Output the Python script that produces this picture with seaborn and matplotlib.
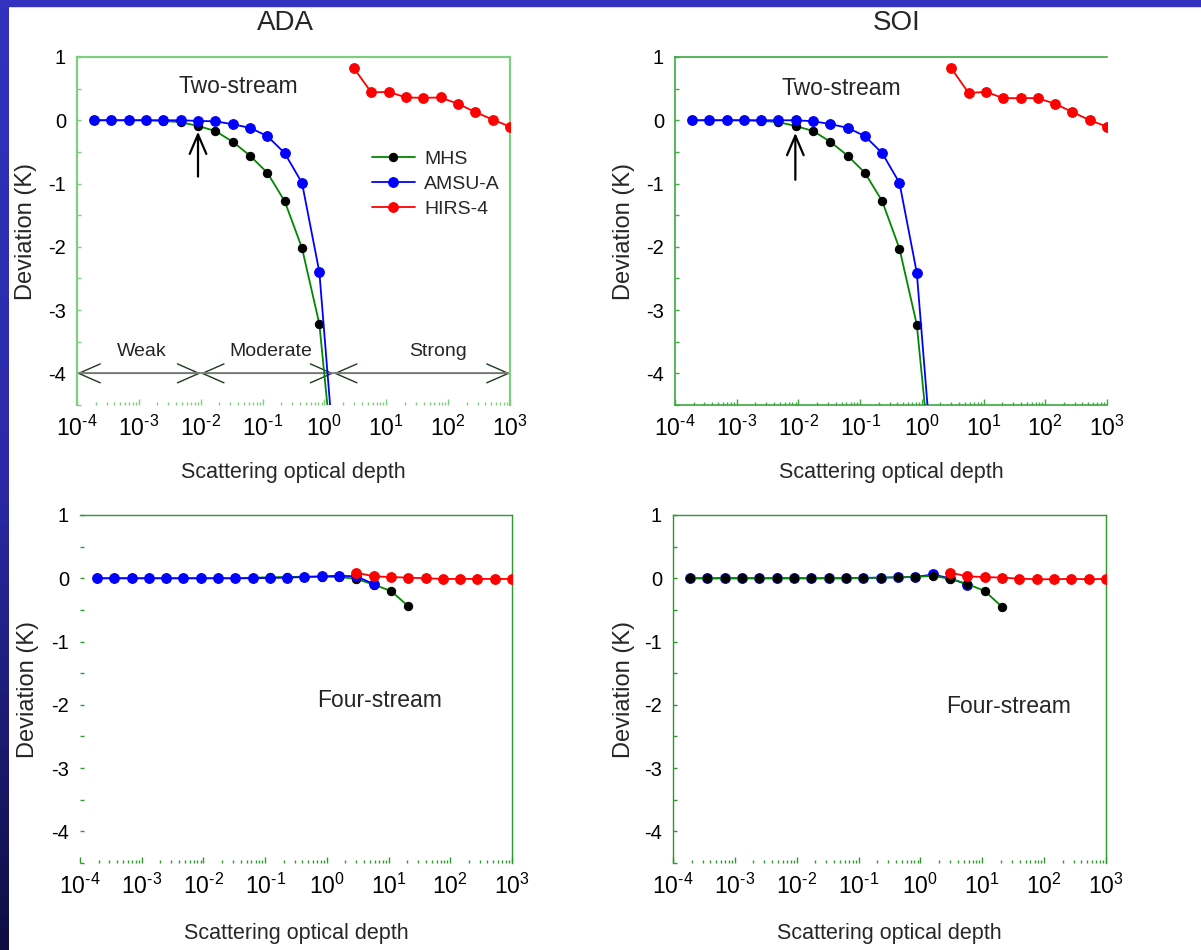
import numpy as np
import matplotlib
matplotlib.use("Agg")
import matplotlib.pyplot as plt
import seaborn as sns
from matplotlib.patches import Rectangle
from matplotlib.colors import LinearSegmentedColormap
from matplotlib.ticker import LogLocator, FixedLocator, MultipleLocator, NullFormatter

# ---------------- data ----------------
tau = [1.88e-4, 3.59e-4, 6.85e-4, 1.31e-3, 2.49e-3, 4.75e-3, 9.04e-3, 1.73e-2,
       3.29e-2, 6.27e-2, 0.1195, 0.228, 0.434, 0.828, 1.58, 3.01, 5.73, 10.9,
       20.8, 39.7, 75.7, 144, 275, 525, 1000]

# ADA, two-stream
ada2_mhs = [0.0, 0.0, 0.0, 0.0, -0.01, -0.03, -0.09, -0.17, -0.34, -0.56, -0.83, -1.28, -2.02, -3.22, -6.0]
ada2_amsu = [0.0, 0.0, 0.0, 0.0, 0.0, 0.0, -0.01, -0.016, -0.063, -0.12, -0.25, -0.52, -0.99, -2.40, -5.8]
ada2_hirs = [0.82, 0.44, 0.45, 0.36, 0.355, 0.36, 0.26, 0.13, 0.01, -0.10]

# SOI, two-stream
soi2_mhs = [0.0, 0.0, 0.0, 0.0, -0.01, -0.03, -0.09, -0.17, -0.34, -0.56, -0.83, -1.28, -2.03, -3.23, -6.0]
soi2_amsu = [0.0, 0.0, 0.0, 0.0, 0.0, 0.0, 0.0, -0.015, -0.06, -0.12, -0.25, -0.52, -0.99, -2.41, -5.8]
soi2_hirs = [0.82, 0.43, 0.45, 0.35, 0.35, 0.35, 0.26, 0.13, 0.0, -0.10]

# ADA, four-stream
ada4_mhs = [0.0, 0.0, 0.0, 0.0, 0.0, 0.0, 0.0, 0.0, 0.0, 0.01, 0.015, 0.02, 0.025, 0.025, 0.02, -0.01, -0.10, -0.20, -0.44]
ada4_amsu = [0.0, 0.0, 0.0, 0.0, 0.0, 0.0, 0.0, 0.0, 0.0, 0.0, 0.005, 0.01, 0.02, 0.03, 0.04, 0.03, -0.09]
ada4_hirs = [0.09, 0.03, 0.02, 0.01, 0.0, -0.01, -0.01, -0.01, -0.01, -0.01]

# SOI, four-stream
soi4_mhs = [0.0, 0.0, 0.0, 0.0, 0.0, 0.0, 0.0, 0.0, 0.0, 0.0, 0.005, 0.01, 0.015, 0.02, 0.04, -0.01, -0.09, -0.20, -0.45]
soi4_amsu = [0.0, 0.0, 0.0, 0.0, 0.0, 0.0, 0.0, 0.0, 0.0, 0.0, 0.005, 0.01, 0.015, 0.02, 0.06, 0.0, -0.10]
soi4_hirs = [0.09, 0.03, 0.02, 0.01, -0.005, -0.015, -0.015, -0.01, -0.015, -0.01]

series_names = ["MHS", "AMSU-A", "HIRS-4"]
xtick_vals = [1e-4, 1e-3, 1e-2, 1e-1, 1e0, 1e1, 1e2, 1e3]
xtick_labels = ["$\\mathregular{10^{\u20104}}$", "$\\mathregular{10^{\u20103}}$",
                "$\\mathregular{10^{\u20102}}$", "$\\mathregular{10^{\u20101}}$",
                "$\\mathregular{10^{0}}$", "$\\mathregular{10^{1}}$",
                "$\\mathregular{10^{2}}$", "$\\mathregular{10^{3}}$"]
ytick_vals = [1, 0, -1, -2, -3, -4]
ytick_labels = ["1", "0", "-1", "-2", "-3", "-4"]
regimes = ["Weak", "Moderate", "Strong"]
regime_bounds = [1e-4, 1e-2, 1.41, 1e3]

# ---------------- style ----------------
sns.set_style("white")
plt.rcParams["font.family"] = ["Liberation Sans", "DejaVu Sans"]
plt.rcParams["mathtext.fontset"] = "custom"
plt.rcParams["mathtext.rm"] = "Liberation Sans"
plt.rcParams["mathtext.it"] = "Liberation Sans:italic"

W, H = 1201, 950
fig = plt.figure(figsize=(W / 100, H / 100), dpi=100)
fig.patch.set_facecolor("white")

# background: blue strips
bg = fig.add_axes([0, 0, 8.5 / W, 1], zorder=-5)
grad = np.linspace(0, 1, 256).reshape(-1, 1)
cm = LinearSegmentedColormap.from_list("bgc", ["#0E0E42", "#2A2AA8", "#3232BE"])
bg.imshow(grad, aspect="auto", cmap=cm, origin="lower", extent=[0, 1, 0, 1])
bg.set_axis_off()
fig.patches.append(Rectangle((0, 1 - 6 / H), 1, 6 / H, transform=fig.transFigure,
                             color="#3232BE", zorder=-4))

GREEN_LINE = "#008800"
BLUE = "#0000FF"
RED = "#FF0000"


def px_axes(x0, x1, ytop, ybot):
    return fig.add_axes([x0 / W, (H - ybot) / H, (x1 - x0) / W, (ybot - ytop) / H])


def draw(ax, mhs, amsu, hirs, mhs_on_top=False):
    def p_mhs(z):
        sns.lineplot(x=tau[:len(mhs)], y=mhs, ax=ax, color=GREEN_LINE, marker="o",
                     markersize=6.0, markerfacecolor="black", markeredgecolor="black",
                     linewidth=1.3, label=series_names[0], zorder=z)

    def p_amsu(z):
        sns.lineplot(x=tau[:len(amsu)], y=amsu, ax=ax, color=BLUE, marker="o",
                     markersize=7.0, markerfacecolor=BLUE, markeredgecolor=BLUE,
                     linewidth=1.3, label=series_names[1], zorder=z)

    if mhs_on_top:
        p_amsu(3)
        p_mhs(4)
    else:
        p_mhs(3)
        p_amsu(4)
    sns.lineplot(x=tau[15:15 + len(hirs)], y=hirs, ax=ax, color=RED, marker="o",
                 markersize=7.0, markerfacecolor=RED, markeredgecolor=RED,
                 linewidth=1.3, label=series_names[2], zorder=5)


def style(ax, spine_color, spines_on, spine_lw):
    ax.set_xscale("log")
    ax.set_xlim(1e-4, 1e3)
    ax.set_ylim(-4.5, 1)
    for side in ["left", "right", "top", "bottom"]:
        ax.spines[side].set_visible(side in spines_on)
        ax.spines[side].set_color(spine_color)
        ax.spines[side].set_linewidth(spine_lw)
    ax.xaxis.set_major_locator(FixedLocator(xtick_vals))
    ax.set_xticklabels(xtick_labels)
    ax.xaxis.set_minor_locator(LogLocator(base=10, subs=np.arange(2, 10), numticks=20))
    ax.xaxis.set_minor_formatter(NullFormatter())
    ax.yaxis.set_major_locator(FixedLocator(ytick_vals))
    ax.set_yticklabels(ytick_labels)
    ax.yaxis.set_minor_locator(MultipleLocator(0.5))
    ax.tick_params(axis="x", which="major", direction="in", length=4, width=1,
                   color=spine_color, labelsize=16.5, pad=8, labelcolor="black", bottom=True)
    ax.tick_params(axis="x", which="minor", direction="in", length=2, width=1,
                   color=spine_color, bottom=True)
    ax.tick_params(axis="y", which="major", direction="in", length=3, width=1,
                   color=spine_color, labelsize=14.5, pad=8, labelcolor="black", left=True)
    ax.tick_params(axis="y", which="minor", direction="in", length=3, width=1,
                   color=spine_color, left=True)
    ax.set_facecolor("none")
    ax.set_xlabel("Scattering optical depth", fontsize=15.5)
    ax.set_ylabel("Deviation (K)", fontsize=17)


ax_tl = px_axes(77, 510, 57, 405)
ax_tr = px_axes(675, 1107, 57, 405)
ax_bl = px_axes(80, 512, 515, 863)
ax_br = px_axes(673, 1106, 515, 863)

draw(ax_tl, ada2_mhs, ada2_amsu, ada2_hirs)
draw(ax_tr, soi2_mhs, soi2_amsu, soi2_hirs)
draw(ax_bl, ada4_mhs, ada4_amsu, ada4_hirs)
draw(ax_br, soi4_mhs, soi4_amsu, soi4_hirs, mhs_on_top=True)

style(ax_tl, "#80CC80", ["left", "top", "right"], 1.6)
style(ax_tr, "#3CAA3C", ["left", "top", "bottom"], 1.2)
style(ax_bl, "#2E9A2E", ["top", "right"], 1.0)
style(ax_br, "#2E9A2E", ["left", "top", "right"], 1.0)

ax_tl.yaxis.set_label_coords(-0.093, 0.5)
ax_tr.yaxis.set_label_coords(-0.093, 0.5)
ax_bl.yaxis.set_label_coords(-0.095, 0.5)
ax_br.yaxis.set_label_coords(-0.087, 0.5)
for a in (ax_tl, ax_tr):
    a.xaxis.set_label_coords(0.5, -0.165)
for a in (ax_bl, ax_br):
    a.xaxis.set_label_coords(0.5, -0.172)

# legends
for a in (ax_tr, ax_bl, ax_br):
    lg = a.get_legend()
    if lg is not None:
        lg.remove()
h, l = ax_tl.get_legend_handles_labels()
ax_tl.legend(h, l, loc="upper left", bbox_to_anchor=(0.681, 0.733), frameon=False,
             fontsize=14, handlelength=2.2, handletextpad=0.5, labelspacing=0.38,
             borderpad=0, borderaxespad=0)

# panel texts
ax_tl.text(10 ** -1.39, 0.54, "Two-stream", fontsize=16.5, ha="center", va="center")
ax_tr.text(10 ** -1.30, 0.51, "Two-stream", fontsize=16.5, ha="center", va="center")
ax_bl.text(10 ** 0.86, -1.93, "Four-stream", fontsize=16.5, ha="center", va="center")
ax_br.text(10 ** 1.42, -2.03, "Four-stream", fontsize=16.5, ha="center", va="center")

# up arrows marking weak/moderate boundary
ax_tl.annotate("", xy=(9.04e-3, -0.18), xytext=(9.04e-3, -0.89),
               arrowprops=dict(arrowstyle="->,head_length=1.4,head_width=0.6", color="black",
                               lw=1.6, shrinkA=0, shrinkB=0, mutation_scale=10), zorder=6)
ax_tr.annotate("", xy=(10 ** -2.05, -0.20), xytext=(10 ** -2.05, -0.94),
               arrowprops=dict(arrowstyle="->,head_length=1.4,head_width=0.6", color="black",
                               lw=1.6, shrinkA=0, shrinkB=0, mutation_scale=10), zorder=6)

# regime arrows (top-left only)
for i in range(3):
    ax_tl.annotate("", xy=(regime_bounds[i], -4), xytext=(regime_bounds[i + 1], -4),
                   arrowprops=dict(arrowstyle="<->,head_length=1.55,head_width=0.68",
                                   color="#1E3A1E", lw=1.0, shrinkA=0, shrinkB=0,
                                   mutation_scale=10), zorder=2)
ax_tl.plot([regime_bounds[0], regime_bounds[-1]], [-4, -4], color="#808080", lw=1.3, zorder=2.5)
regime_x = [10 ** -2.95, 10 ** -0.86, 10 ** 1.83]
for name, xv in zip(regimes, regime_x):
    ax_tl.text(xv, -3.65, name, fontsize=14, ha="center", va="center")

# column titles
fig.text(285 / W, 1 - 23 / H, "ADA", fontsize=20, ha="center", va="center")
fig.text(897 / W, 1 - 23 / H, "SOI", fontsize=20, ha="center", va="center")

fig.savefig("out.png", dpi=100, facecolor="white")
